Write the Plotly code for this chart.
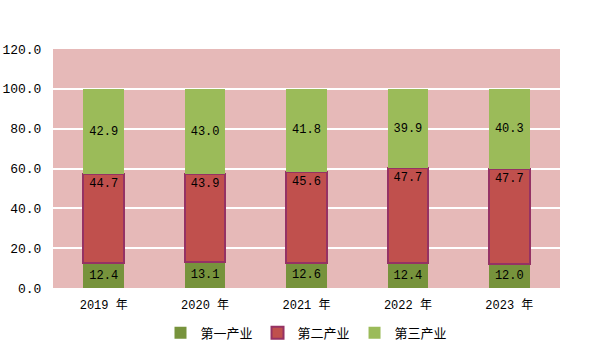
import plotly.graph_objects as go

categories = ["2019 年", "2020 年", "2021 年", "2022 年", "2023 年"]
primary = [12.4, 13.1, 12.6, 12.4, 12.0]
secondary = [44.7, 43.9, 45.6, 47.7, 47.7]
tertiary = [42.9, 43.0, 41.8, 39.9, 40.3]
y_ticks = [0, 20, 40, 60, 80, 100, 120]

num_font = dict(family="Liberation Mono, DejaVu Sans Mono, monospace", size=12, color="#000000")

fig = go.Figure()
fig.add_trace(go.Bar(
    x=categories, y=primary, name="第一产业",
    marker=dict(color="#77933C", line=dict(width=0)),
    text=[f"{v:.1f}" for v in primary], textposition="inside",
    insidetextanchor="middle", textfont=num_font, textangle=0,
))
fig.add_trace(go.Bar(
    x=categories, y=secondary, name="第二产业",
    marker=dict(color="#C0504D", line=dict(color="#953264", width=2)),
    text=[f"{v:.1f}" for v in secondary], textposition="inside",
    insidetextanchor="end", textfont=num_font, textangle=0,
))
fig.add_trace(go.Bar(
    x=categories, y=tertiary, name="第三产业",
    marker=dict(color="#9BBB59", line=dict(width=0)),
    text=[f"{v:.1f}" for v in tertiary], textposition="inside",
    insidetextanchor="middle", textfont=num_font, textangle=0,
))

fig.update_layout(
    barmode="stack",
    bargap=0.6,
    width=602, height=352,
    margin=dict(l=53, r=42, t=49, b=64, autoexpand=False),
    paper_bgcolor="#FFFFFF",
    plot_bgcolor="#E6B9B8",
    legend=dict(
        orientation="h", x=0.5, xanchor="center", y=-0.125, yanchor="top",
        font=dict(family="Noto Sans CJK SC", size=13, color="#000000"),
        itemwidth=30, traceorder="normal",
    ),
    xaxis=dict(
        showgrid=False, ticks="outside", ticklen=6, tickcolor="rgba(0,0,0,0)",
        showline=False,
        tickfont=dict(family="Liberation Mono, DejaVu Sans Mono, Noto Sans CJK SC", size=12, color="#000000"),
    ),
    yaxis=dict(
        range=[0, 120], tickvals=y_ticks, ticktext=[f"{v:.1f}" for v in y_ticks],
        showgrid=True, gridcolor="#FFFFFF", gridwidth=1.5, zeroline=False,
        showline=False, ticks="outside", ticklen=8, tickcolor="rgba(0,0,0,0)",
        tickfont=dict(family="Liberation Mono, DejaVu Sans Mono, monospace", size=13, color="#000000"),
    ),
)

fig.write_html("out.html")
